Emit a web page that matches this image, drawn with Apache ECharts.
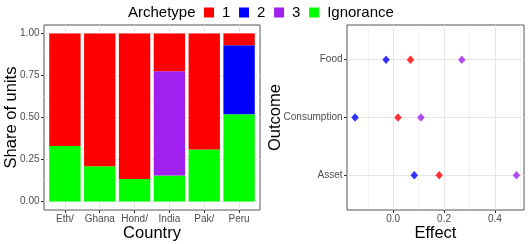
<!DOCTYPE html>
<html>
<head>
<meta charset="utf-8">
<script src="https://cdn.jsdelivr.net/npm/echarts@6/dist/echarts.min.js"></script>
<style>
html,body{margin:0;padding:0;background:#fff;}
#chart{width:528px;height:244px;}
</style>
</head>
<body>
<div id="chart"></div>
<script>
// ---- data ----
const countries = ['Eth/', 'Ghana', 'Hond/', 'India', 'Pak/', 'Peru'];
const shareIgnorance = [0.33, 0.21, 0.135, 0.155, 0.31, 0.52];
const share3 = [null, null, null, 0.62, null, null];
const share2 = [null, null, null, null, null, 0.41];
const share1 = [0.67, 0.79, 0.865, 0.225, 0.69, 0.07];
const shareTicks = [0, 0.25, 0.5, 0.75, 1];
const shareMinor = [0.125, 0.375, 0.625, 0.875];

const outcomes = ['Asset', 'Consumption', 'Food'];
const effect1 = [0.181, 0.019, 0.068];
const effect2 = [0.083, -0.150, -0.028];
const effect3 = [0.485, 0.109, 0.270];
const effectTicks = [0, 0.2, 0.4];
const effectMinor = [-0.1, 0.1, 0.3, 0.5];

const archetypes = ['1', '2', '3', 'Ignorance'];
const colors = {'1': '#FF0000', '2': '#0000FF', '3': '#A020F0', 'Ignorance': '#00FF00'};

// ---- chart ----
const FONT = 'Liberation Sans';
const tickColor = '#333333';
const labelColor = '#4D4D4D';
const gridColor = '#E6E6E6';
const countryIdx = countries.map((c, i) => i);
const outcomeIdx = outcomes.map((o, i) => i + 1);

// left panel geometry: ggplot discrete expansion of 0.6 units
const L_LEFT = 44, L_WIDTH = 216, TOP = 25, HEIGHT = 185;
const unit = L_WIDTH / (countries.length - 1 + 1.2);

const chart = echarts.init(document.getElementById('chart'), null, {renderer: 'canvas'});

function barSeries(name, arr) {
  return {
    type: 'bar', name: name, stack: 'share',
    xAxisIndex: 3, yAxisIndex: 3,
    barWidth: '90%',
    itemStyle: {color: colors[name]},
    data: arr.slice(),
    animation: false
  };
}
function pointSeries(name, arr) {
  return {
    type: 'scatter', name: name,
    xAxisIndex: 1, yAxisIndex: 2,
    symbol: 'diamond', symbolSize: [7.5, 8.5],
    itemStyle: {color: colors[name]},
    data: outcomes.map((o, i) => [arr[i], i + 1]),
    animation: false
  };
}

const axisNameStyle = {fontSize: 16.5, color: '#000', fontFamily: FONT};
const tickLabel = {fontSize: 10, color: labelColor, fontFamily: FONT};
const noLine = {show: false, onZero: false};

chart.setOption({
  animation: false,
  textStyle: {fontFamily: FONT},
  legend: {
    data: archetypes,
    left: 204, top: 5, padding: 0,
    icon: 'rect', itemWidth: 10, itemHeight: 10, itemGap: 8.7,
    selectedMode: false,
    textStyle: {fontSize: 15, color: '#000', fontFamily: FONT, padding: [0, 0, 0, 3]}
  },
  graphic: [{
    type: 'text', left: 128, top: 5,
    style: {text: 'Archetype', fontSize: 15, fill: '#000', fontFamily: FONT}
  }],
  grid: [
    {left: L_LEFT, top: TOP, width: L_WIDTH, height: HEIGHT, show: true, borderColor: '#555', borderWidth: 1, backgroundColor: 'transparent', outerBoundsMode: 'none', containLabel: false},
    {left: 347, top: TOP, width: 177, height: HEIGHT, show: true, borderColor: '#555', borderWidth: 1, backgroundColor: 'transparent', outerBoundsMode: 'none', containLabel: false},
    {left: L_LEFT + 0.1 * unit, top: TOP, width: unit * countries.length, height: HEIGHT, show: false, outerBoundsMode: 'none', containLabel: false}
  ],
  xAxis: [
    {
      gridIndex: 0, type: 'value', min: -0.6, max: 5.6, position: 'bottom',
      axisLine: noLine,
      axisTick: {show: true, length: 3, customValues: countryIdx, lineStyle: {color: tickColor}},
      axisLabel: Object.assign({customValues: countryIdx, margin: 4, formatter: v => countries[Math.round(v)]}, tickLabel),
      splitLine: {show: true, lineStyle: {color: gridColor, width: 1}},
      name: 'Country', nameLocation: 'middle', nameGap: 14.5, nameMoveOverlap: false, nameTextStyle: axisNameStyle
    },
    {
      gridIndex: 1, type: 'value', min: -0.1817, max: 0.5147, position: 'bottom',
      axisLine: noLine,
      axisTick: {show: true, length: 3, customValues: effectTicks, lineStyle: {color: tickColor}},
      axisLabel: Object.assign({customValues: effectTicks, margin: 4, formatter: v => v.toFixed(1)}, tickLabel),
      splitLine: {show: true, lineStyle: {color: gridColor, width: 1}},
      name: 'Effect', nameLocation: 'middle', nameGap: 14.5, nameMoveOverlap: false, nameTextStyle: axisNameStyle
    },
    {
      gridIndex: 1, type: 'value', min: -0.1817, max: 0.5147, position: 'top',
      axisLine: noLine,
      axisTick: {show: false, customValues: effectMinor},
      axisLabel: {show: false},
      splitLine: {show: true, lineStyle: {color: gridColor, width: 0.5}}
    },
    {
      gridIndex: 2, type: 'category', data: countries, boundaryGap: true, show: false
    }
  ],
  yAxis: [
    {
      gridIndex: 0, type: 'value', min: -0.05, max: 1.05, position: 'left',
      axisLine: noLine,
      axisTick: {show: true, length: 3, customValues: shareTicks, lineStyle: {color: tickColor}},
      axisLabel: Object.assign({customValues: shareTicks, margin: 4.5, formatter: v => v.toFixed(2)}, tickLabel),
      splitLine: {show: true, lineStyle: {color: gridColor, width: 1}},
      name: 'Share of units', nameLocation: 'middle', nameGap: 24, nameMoveOverlap: false, nameTextStyle: axisNameStyle
    },
    {
      gridIndex: 0, type: 'value', min: -0.05, max: 1.05, position: 'right',
      axisLine: noLine,
      axisTick: {show: false, customValues: shareMinor},
      axisLabel: {show: false},
      splitLine: {show: true, lineStyle: {color: gridColor, width: 0.5}}
    },
    {
      gridIndex: 1, type: 'value', min: 0.4, max: 3.6, position: 'left',
      axisLine: noLine,
      axisTick: {show: true, length: 3, customValues: outcomeIdx, lineStyle: {color: tickColor}},
      axisLabel: Object.assign({customValues: outcomeIdx, margin: 4.5, formatter: v => outcomes[Math.round(v) - 1]}, tickLabel),
      splitLine: {show: true, lineStyle: {color: gridColor, width: 1}},
      name: 'Outcome', nameLocation: 'middle', nameGap: 63, nameMoveOverlap: false, nameTextStyle: axisNameStyle
    },
    {
      gridIndex: 2, type: 'value', min: -0.05, max: 1.05, show: false
    }
  ],
  series: [
    barSeries('Ignorance', shareIgnorance),
    barSeries('3', share3),
    barSeries('2', share2),
    barSeries('1', share1),
    pointSeries('2', effect2),
    pointSeries('1', effect1),
    pointSeries('3', effect3)
  ]
});
</script>
</body>
</html>
